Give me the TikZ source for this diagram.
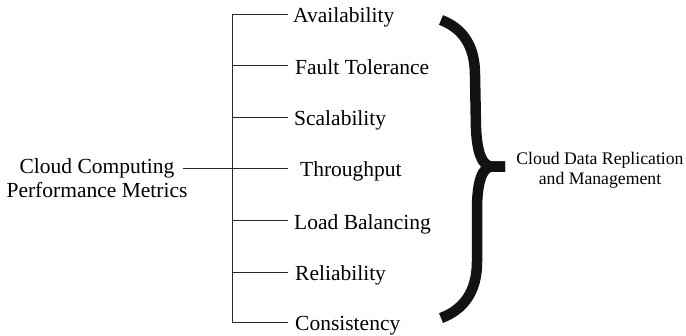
\documentclass[tikz,border=0pt]{standalone}
\usepackage{fontspec}
\newfontfamily\timesx{Liberation Serif}
\begin{document}
\begin{tikzpicture}[x=1pt,y=-1pt,
  lbl/.style={font=\timesx\fontsize{21.5}{24}\selectfont, inner sep=0pt, anchor=base west},
  rootlbl/.style={font=\timesx\fontsize{21.5}{23.5}\selectfont, inner sep=0pt, align=center},
  rlbl/.style={font=\timesx\fontsize{17.7}{20}\selectfont, inner sep=0pt, align=center},
  tree/.style={line width=1pt, draw=black!85},
  bracestroke/.style={line width=10.5pt, draw=black!93, line cap=butt, line join=round}]
\useasboundingbox (0,0) rectangle (686,335);
% root
\node[rootlbl] (root) at (97,178) {Cloud Computing\\Performance Metrics};
% leaves
\node[lbl] (a1) at (293,22) {Availability};
\node[lbl] (a2) at (295,74) {Fault Tolerance};
\node[lbl] (a3) at (294,125) {Scalability};
\node[lbl] (a4) at (300,176) {Throughput};
\node[lbl] (a5) at (294,229) {Load Balancing};
\node[lbl] (a6) at (295,280) {Reliability};
\node[lbl] (a7) at (295,330) {Consistency};
% tree junctions
\coordinate (rs) at (183,168.5);
\coordinate (j1) at (232,14);
\coordinate (j2) at (232,65.7);
\coordinate (j3) at (232,117);
\coordinate (j4) at (232,168.5);
\coordinate (j5) at (232,220.7);
\coordinate (j6) at (232,272);
\coordinate (j7) at (232,322.7);
\coordinate (e1) at (288,14);
\coordinate (e2) at (288,65.7);
\coordinate (e3) at (288,117);
\coordinate (e4) at (288,168.5);
\coordinate (e5) at (288,220.7);
\coordinate (e6) at (288,272);
\coordinate (e7) at (288,322.7);
\draw[tree] (j1) -- (j7);
\draw[tree] (rs) -- (e4);
\foreach \i in {1,2,3,5,6,7} { \draw[tree] (j\i) -- (e\i); }
% brace
\coordinate (btop) at (441,20);
\coordinate (btip) at (505,166.5);
\coordinate (bbot) at (441,318);
\draw[bracestroke] (btop) .. controls (462,28) and (475,45) .. (475,75) -- (476,128)
  .. controls (477,152) and (482,166.5) .. (492,166.5) -- (btip);
\draw[bracestroke] (btip) -- (492,166.5) .. controls (482,167) and (477,182) .. (477,210)
  -- (477,262) .. controls (477,292) and (463,310) .. (bbot);
% right label
\node[rlbl] (res) at (600,170) {Cloud Data Replication\\and Management};
\end{tikzpicture}
\end{document}
